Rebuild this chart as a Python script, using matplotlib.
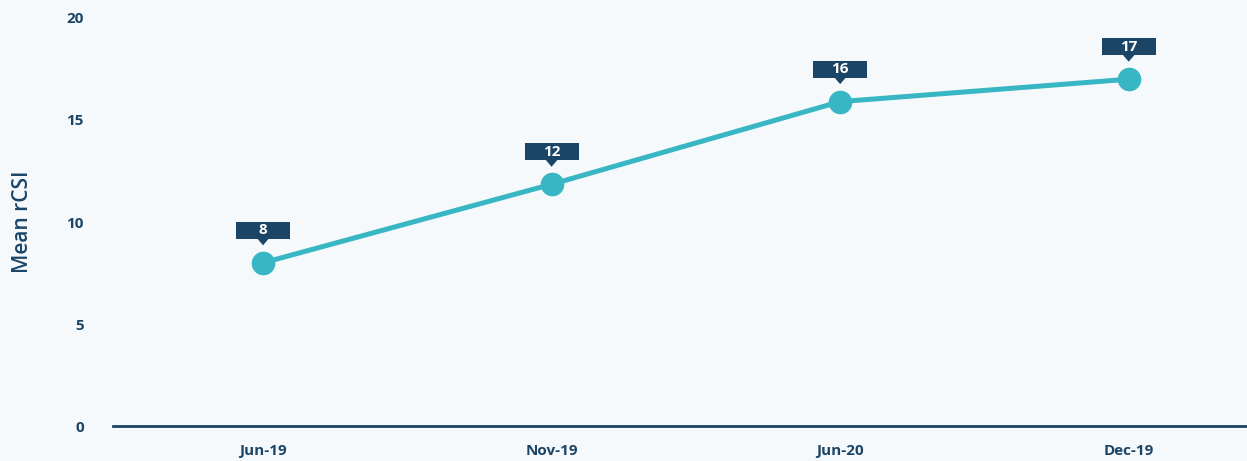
import matplotlib
matplotlib.use("Agg")
import matplotlib.pyplot as plt
import matplotlib.transforms as mtransforms
from matplotlib.patches import Rectangle, Polygon

# Data
periods = ["Jun-19", "Nov-19", "Jun-20", "Dec-19"]
mean_rcsi = [8.0, 11.85, 15.9, 17.0]
y_ticks = [0, 5, 10, 15, 20]

BG = "#F5F9FB"
LINE = "#38B6C4"
NAVY = "#1B4567"
FONT = "Open Sans"

fig = plt.figure(figsize=(12.47, 4.61), dpi=100, facecolor=BG)
ax = fig.add_axes([113 / 1247, 35 / 461, 1 - 113 / 1247, (426 - 18) / 461])
ax.set_facecolor(BG)

x = list(range(len(periods)))
ax.plot(x, mean_rcsi, color=LINE, lw=3.6, marker="o", markersize=16,
        markerfacecolor=LINE, markeredgecolor=LINE, clip_on=False, zorder=3)

ax.set_xlim(-0.52, 3.41)
ax.set_ylim(0, 20)
ax.set_xticks(x)
ax.set_xticklabels(periods)
ax.set_yticks(y_ticks)

for s in ["top", "right", "left"]:
    ax.spines[s].set_visible(False)
ax.spines["bottom"].set_color(NAVY)
ax.spines["bottom"].set_linewidth(2)

ax.tick_params(axis="both", length=0, labelcolor=NAVY, labelsize=11)
ax.tick_params(axis="x", pad=13)
ax.tick_params(axis="y", pad=21)
for lab in ax.get_xticklabels() + ax.get_yticklabels():
    lab.set_fontfamily(FONT)
    lab.set_fontweight("bold")

ax.set_ylabel("Mean rCSI", fontsize=15, color=NAVY, family=FONT,
              fontweight="semibold", labelpad=24)

# Value callouts above each point (sized in pixels)
for xi, yi in zip(x, mean_rcsi):
    tr = mtransforms.Affine2D() + mtransforms.ScaledTranslation(xi, yi, ax.transData)
    ax.add_patch(Rectangle((-27, 24), 54, 17, transform=tr, facecolor=NAVY,
                           edgecolor="none", clip_on=False, zorder=4))
    ax.add_patch(Polygon([(-6, 24.5), (6, 24.5), (0, 17.5)], closed=True,
                         transform=tr, facecolor=NAVY, edgecolor="none",
                         clip_on=False, zorder=4))
    ax.text(0, 32.5, f"{yi:.0f}", transform=tr, ha="center", va="center",
            color="white", fontsize=11, fontweight="bold", family=FONT, zorder=5)

fig.savefig("out.png", dpi=100, facecolor=BG)
